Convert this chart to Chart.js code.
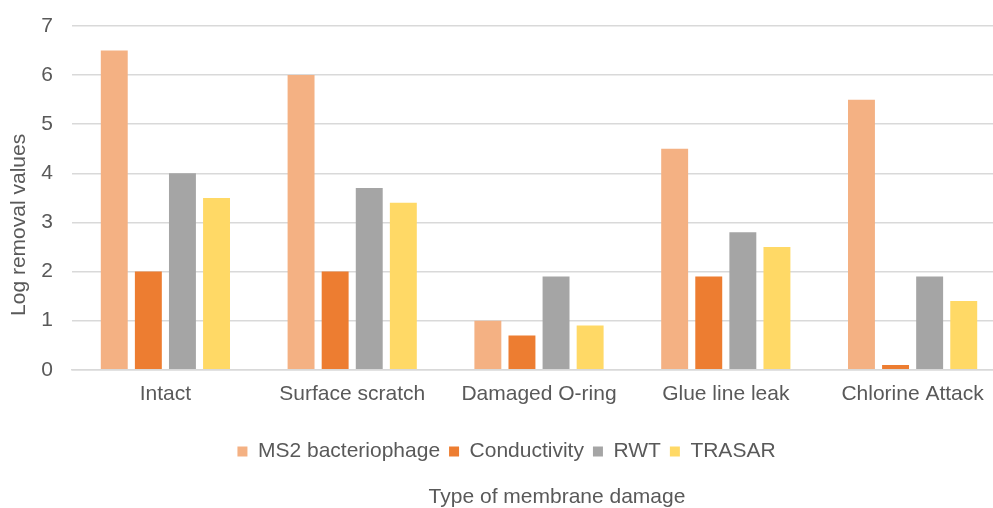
<!DOCTYPE html>
<html>
<head>
<meta charset="utf-8">
<script src="https://cdn.jsdelivr.net/npm/chart.js@4"></script>
<style>
  html, body { margin: 0; padding: 0; background: #fff; overflow: hidden; }
  #wrap { width: 1006px; height: 508px; position: relative; }
</style>
</head>
<body>
<div id="wrap"><canvas id="chart"></canvas></div>
<script>
const categories = ['Intact', 'Surface scratch', 'Damaged O-ring', 'Glue line leak', 'Chlorine Attack'];
const ms2 = [6.5, 6.0, 1.0, 4.5, 5.5];
const conductivity = [2.0, 2.0, 0.7, 1.9, 0.1];
const rwt = [4.0, 3.7, 1.9, 2.8, 1.9];
const trasar = [3.5, 3.4, 0.9, 2.5, 1.4];
const yTicks = [0, 1, 2, 3, 4, 5, 6, 7];
const xTitle = 'Type of membrane damage';
const yTitle = 'Log removal values';

const textColor = '#595959';
const gridColor = '#D9D9D9';
const fontFamily = '"Liberation Sans", Arial, sans-serif';
const fontSize = 21;

function series(label, data, color) {
  return {
    label: label,
    data: data,
    backgroundColor: color,
    borderWidth: 0,
    categoryPercentage: 0.73,
    barPercentage: 0.79
  };
}

// axis titles placed like the original: x title under the legend, y title a bit low
const axisTitles = {
  id: 'axisTitles',
  afterDraw(chart) {
    const ctx = chart.ctx;
    const area = chart.chartArea;
    ctx.save();
    ctx.font = fontSize + 'px ' + fontFamily;
    ctx.fillStyle = textColor;
    ctx.textAlign = 'center';
    ctx.textBaseline = 'middle';
    ctx.fillText(xTitle, (area.left + area.right) / 2 + 18, chart.height - 11);
    ctx.translate(19.5, (area.top + area.bottom) / 2 + 27);
    ctx.rotate(-Math.PI / 2);
    ctx.fillText(yTitle, 0, 0);
    ctx.restore();
  }
};

new Chart(document.getElementById('chart').getContext('2d'), {
  type: 'bar',
  data: {
    labels: categories,
    datasets: [
      series('MS2 bacteriophage', ms2, '#F4B183'),
      series('Conductivity', conductivity, '#ED7D31'),
      series('RWT', rwt, '#A5A5A5'),
      series('TRASAR', trasar, '#FFD966')
    ]
  },
  plugins: [axisTitles],
  options: {
    responsive: true,
    maintainAspectRatio: false,
    animation: false,
    layout: { padding: { top: 26, right: 0, left: 7, bottom: 36 } },
    plugins: {
      legend: {
        position: 'bottom',
        labels: {
          boxWidth: 10,
          boxHeight: 10,
          padding: 9,
          color: textColor,
          font: { family: fontFamily, size: fontSize }
        }
      },
      tooltip: { enabled: false }
    },
    scales: {
      x: {
        grid: { display: false, drawTicks: false },
        border: { color: gridColor, width: 1.5 },
        ticks: { color: textColor, font: { family: fontFamily, size: fontSize }, padding: 12 },
        afterFit: axis => { axis.height += 13; }
      },
      y: {
        min: 0,
        max: 7,
        afterBuildTicks: axis => { axis.ticks = yTicks.map(v => ({ value: v })); },
        afterFit: axis => {
          axis.width = 65;
          axis.paddingTop = 0;
          axis.paddingBottom = 0;
        },
        grid: { color: gridColor, lineWidth: 1.5, drawTicks: false },
        border: { display: false },
        ticks: { color: textColor, font: { family: fontFamily, size: fontSize }, padding: 19 }
      }
    }
  }
});
</script>
</body>
</html>
